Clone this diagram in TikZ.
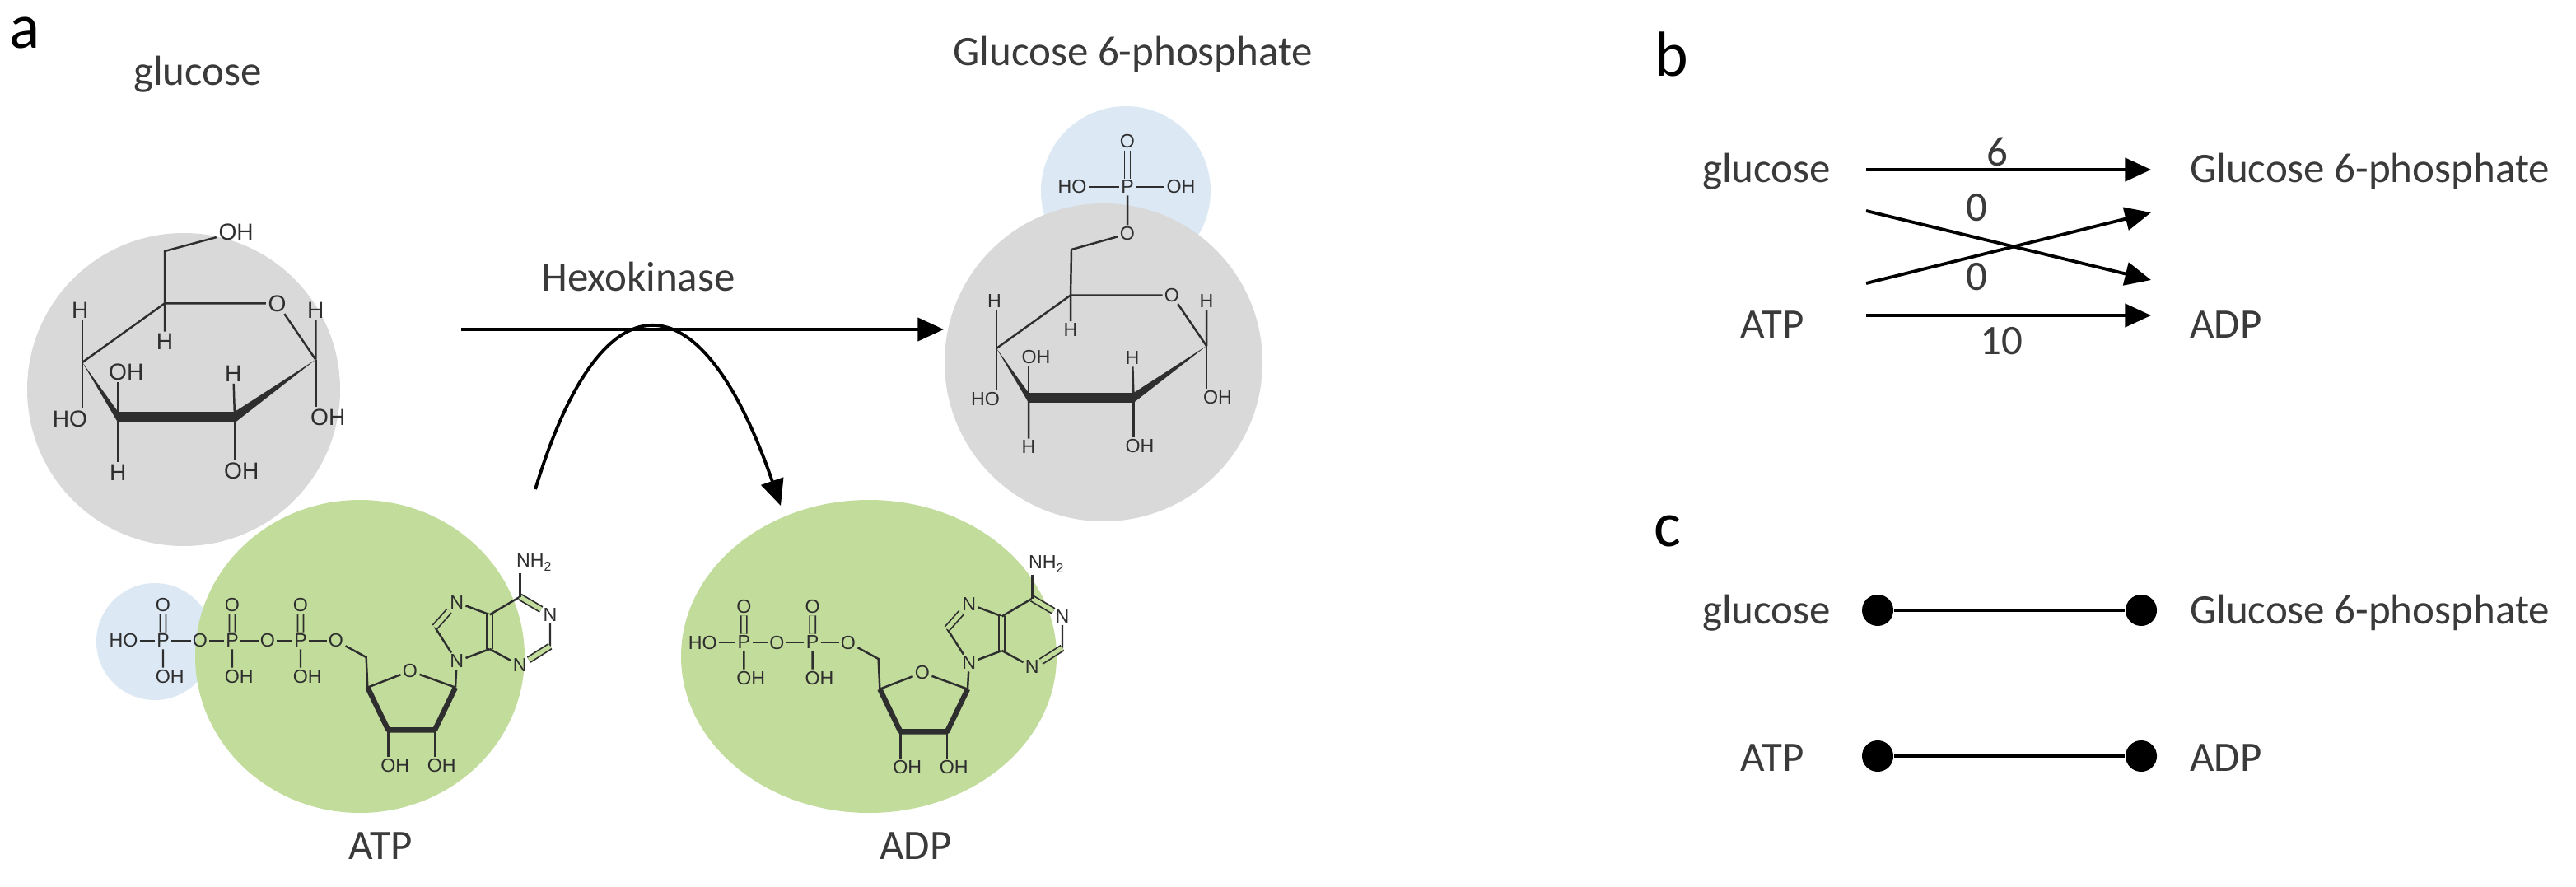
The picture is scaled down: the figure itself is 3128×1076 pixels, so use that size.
\documentclass[tikz,border=0pt]{standalone}
\usepackage{fontspec}
\setmainfont{Carlito}
\newfontfamily\atomfont{Liberation Sans}
\usetikzlibrary{arrows.meta}
\definecolor{graycirc}{HTML}{D9D9D9}
\definecolor{bluecirc}{HTML}{DCE9F5}
\definecolor{greencirc}{HTML}{C2DC9C}
\definecolor{txt}{HTML}{3A3A3A}
\definecolor{bondc}{HTML}{2E2E2E}
\tikzset{
  lbl/.style={font=\fontsize{14.5}{16}\selectfont, text=txt, inner sep=1pt},
  panel/.style={font=\fontsize{22}{24}\selectfont, text=black, inner sep=0pt},
  atom/.style={font=\atomfont\fontsize{8}{9}\selectfont, text=bondc, inner sep=0.6pt},
  satom/.style={font=\atomfont\fontsize{6.6}{7}\selectfont, text=bondc, inner sep=0.5pt},
  bond/.style={draw=bondc, line width=0.7pt},
  bbond/.style={draw=bondc, line width=1.8pt, line join=round},
  dbl/.style={draw=bondc, double=#1, double distance=1.5pt, line width=0.5pt},
  arr/.style={draw=black, line width=1.1pt, -{Triangle[length=9pt,width=8pt]}},
  dot/.style={circle, fill=black, minimum size=0.38cm, inner sep=0pt},
}
\newcommand{\glucring}[2]{% #1 prefix, #2 atom style
  \coordinate (#1c5) at (600,655);
  \node[#2] (#1o) at (1010,655) {O};
  \coordinate (#1c1) at (1150,860);
  \coordinate (#1c2) at (855,1070);
  \coordinate (#1c3) at (430,1070);
  \coordinate (#1c4) at (300,870);
  \draw[bond] (#1c5) -- (#1o) -- (#1c1);
  \draw[bond] (#1c4) -- (#1c5);
  \fill[bondc] (#1c1) -- (855,1050) -- (855,1090) -- cycle;
  \fill[bondc] (855,1050) rectangle (430,1090);
  \fill[bondc] (430,1050) -- (430,1090) -- (#1c4) -- cycle;
  \node[#2] (#1h1) at (1150,680) {H};
  \node[#2] (#1oh1) at (1195,1070) {OH};
  \draw[bond] (#1c1) -- (#1h1);
  \draw[bond] (#1c1) -- (#1c1 |- #1oh1.north);
  \node[#2] (#1h2) at (850,910) {H};
  \node[#2] (#1oh2) at (880,1265) {OH};
  \draw[bond] (#1c2) -- (#1h2);
  \draw[bond] (#1c2) -- (#1c2 |- #1oh2.north);
  \node[#2] (#1oh3) at (460,905) {OH};
  \node[#2] (#1h3) at (430,1270) {H};
  \draw[bond] (#1c3) -- (#1c3 |- #1oh3.south);
  \draw[bond] (#1c3) -- (#1h3);
  \node[#2] (#1h4) at (292,680) {H};
  \node[#2] (#1ho4) at (255,1075) {HO};
  \draw[bond] (#1c4) -- (#1c4 |- #1h4.south);
  \draw[bond] (#1c4) -- (#1c4 |- #1ho4.north);
  \node[#2] (#1h5) at (600,795) {H};
  \draw[bond] (#1c5) -- (#1h5);
}
\newcommand{\nucl}[1]{% adenosine, origin at O5'
  \node[satom] (#1o5) at (0,0) {O};
  \coordinate (#1c5) at (110,60);
  \coordinate (#1c4) at (115,170);
  \node[satom] (#1or) at (270,110) {O};
  \coordinate (#1c1) at (435,170);
  \coordinate (#1c2) at (360,325);
  \coordinate (#1c3) at (190,325);
  \node[satom] (#1oh3) at (215,455) {OH};
  \node[satom] (#1oh2) at (385,455) {OH};
  \node[satom] (#1n9) at (440,75) {N};
  \coordinate (#1c8) at (360,-50);
  \node[satom] (#1n7) at (440,-140) {N};
  \coordinate (#1c5a) at (560,-95);
  \coordinate (#1c4a) at (560,30);
  \coordinate (#1c6) at (670,-160);
  \node[satom] (#1n1) at (780,-95) {N};
  \coordinate (#1c2a) at (780,20);
  \node[satom] (#1n3) at (670,90) {N};
  \node[satom, anchor=west] (#1nh2) at (650,-285) {NH{\fontsize{4.5}{5}\selectfont\raisebox{-0.5ex}{2}}};
  \draw[bond] (#1o5) -- (#1c5) -- (#1c4) -- (#1or) -- (#1c1);
  \draw[bbond] (#1c4) -- (#1c3) -- (#1c2) -- (#1c1);
  \draw[bond] (#1c3) -- (#1c3 |- #1oh3.north);
  \draw[bond] (#1c2) -- (#1c2 |- #1oh2.north);
  \draw[bond] (#1c1) -- (#1n9);
  \draw[bond] (#1n9) -- (#1c8);
  \draw[dbl=greencirc] (#1c8) -- (#1n7);
  \draw[bond] (#1n7) -- (#1c5a);
  \draw[dbl=greencirc] (#1c5a) -- (#1c4a);
  \draw[bond] (#1c4a) -- (#1n9);
  \draw[bond] (#1c5a) -- (#1c6);
  \draw[dbl=greencirc] (#1c6) -- (#1n1);
  \draw[bond] (#1n1) -- (#1c2a);
  \draw[dbl=greencirc] (#1c2a) -- (#1n3);
  \draw[bond] (#1n3) -- (#1c4a);
  \draw[bond] (#1c6) -- (#1c6 |- #1nh2.south);
}
\newcommand{\phos}[4]{% prefix, name, x, background colour
  \node[satom] (#1#2) at (#3,0) {P};
  \node[satom] (#1#2t) at (#3,-130) {O};
  \node[satom] (#1#2b) at (#3+25,130) {OH};
  \draw[dbl=#4] (#1#2) -- (#1#2t);
  \draw[bond] (#1#2) -- (#1#2 |- #1#2b.north);
}
\begin{document}
\begin{tikzpicture}[x=0.01cm,y=-0.01cm]
\useasboundingbox (0,0) rectangle (3128,1076);
\fill[white] (0,0) rectangle (3128,1076);

% ---------- panel a backgrounds ----------
\fill[graycirc] (223,473) circle (190);
\fill[bluecirc] (1367,232) circle (103);
\fill[graycirc] (1340,440) circle (193);
\fill[bluecirc] (188,779) circle (71);
\fill[greencirc] (437,797) ellipse (200 and 190);
\fill[greencirc] (1055,797) ellipse (228 and 190);

\node[panel] (pa) at (30,40) {a};
\node[lbl] (tglu) at (240,90) {glucose};
\node[lbl] (tg6p) at (1376,66) {Glucose 6-phosphate};
\node[lbl] (thex) at (775,336) {Hexokinase};
\node[lbl] (tatp) at (462,1027) {ATP};
\node[lbl] (tadp) at (1112,1027) {ADP};

% glucose
\begin{scope}[shift={(0,150)}, scale=1/3]
  \glucring{g}{atom}
  \coordinate (gc6) at (600,465);
  \node[atom] (goh6) at (860,395) {OH};
  \draw[bond] (gc5) -- (gc6) -- (goh6);
\end{scope}

% glucose 6-phosphate
\begin{scope}[shift={(1120,162)}, scale=0.3]
  \glucring{p}{satom}
\end{scope}
\coordinate (pc6) at (1301,303);
\node[satom] (po6) at (1369,284) {O};
\node[satom] (pp) at (1369,227) {P};
\node[satom] (pho) at (1302,227) {HO};
\node[satom] (poh) at (1434,227) {OH};
\node[satom] (pot) at (1369,172) {O};
\draw[bond] (pc5) -- (pc6) -- (po6) -- (pp);
\draw[bond] (pho) -- (pp) -- (poh);
\draw[dbl=bluecirc] (pp) -- (pot);

% ATP
\begin{scope}[shift={(408,778)}, scale=1/3]
  \nucl{t}
  \phos{t}{p3}{-129}{greencirc}
  \node[satom] (to2) at (-249,0) {O};
  \phos{t}{p2}{-378}{greencirc}
  \node[satom] (to1) at (-495,0) {O};
  \phos{t}{p1}{-630}{bluecirc}
  \node[satom] (tho) at (-774,0) {HO};
  \draw[bond] (tho) -- (tp1) -- (to1) -- (tp2) -- (to2) -- (tp3) -- (to5);
\end{scope}

% ADP
\begin{scope}[shift={(1030,780)}, scale=1/3]
  \nucl{d}
  \phos{d}{p2}{-130}{greencirc}
  \node[satom] (do1) at (-260,0) {O};
  \phos{d}{p1}{-380}{greencirc}
  \node[satom] (dho) at (-530,0) {HO};
  \draw[bond] (dho) -- (dp1) -- (do1) -- (dp2) -- (do5);
\end{scope}

% reaction arrows
\coordinate (ra1) at (560,400);
\coordinate (ra2) at (1146,400);
\draw[arr] (ra1) -- (ra2);
\coordinate (ca1) at (650,594);
\coordinate (ca2) at (948,614);
\draw[arr] (ca1) .. controls (730,330) and (850,330) .. (ca2);

% ---------- panel b ----------
\node[panel] (pb) at (2030,66) {b};
\node[lbl] (bglu) at (2145,208) {glucose};
\node[lbl] (batp) at (2152,394) {ATP};
\node[lbl, anchor=west] (bg6p) at (2655,208) {Glucose 6-phosphate};
\node[lbl, anchor=west] (badp) at (2655,394) {ADP};
\coordinate (b1s) at (2266,206); \coordinate (b1e) at (2612,206);
\coordinate (b2s) at (2266,256); \coordinate (b2e) at (2612,340);
\coordinate (b3s) at (2266,344); \coordinate (b3e) at (2612,258);
\coordinate (b4s) at (2266,383); \coordinate (b4e) at (2612,383);
\draw[arr] (b1s) -- (b1e);
\draw[arr] (b2s) -- (b2e);
\draw[arr] (b3s) -- (b3e);
\draw[arr] (b4s) -- (b4e);
\node[lbl] (l6) at (2425,184) {6};
\node[lbl] (l0a) at (2400,252) {0};
\node[lbl] (l0b) at (2400,336) {0};
\node[lbl] (l10) at (2430,414) {10};

% ---------- panel c ----------
\node[panel] (pc) at (2025,645) {c};
\node[lbl] (cglu) at (2145,744) {glucose};
\node[lbl] (catp) at (2152,920) {ATP};
\node[lbl, anchor=west] (cg6p) at (2655,744) {Glucose 6-phosphate};
\node[lbl, anchor=west] (cadp) at (2655,920) {ADP};
\node[dot] (cd1) at (2280,741) {};
\node[dot] (cd2) at (2600,741) {};
\node[dot] (cd3) at (2280,918) {};
\node[dot] (cd4) at (2600,918) {};
\draw[line width=1.1pt] (cd1) -- (cd2);
\draw[line width=1.1pt] (cd3) -- (cd4);
\end{tikzpicture}
\end{document}
